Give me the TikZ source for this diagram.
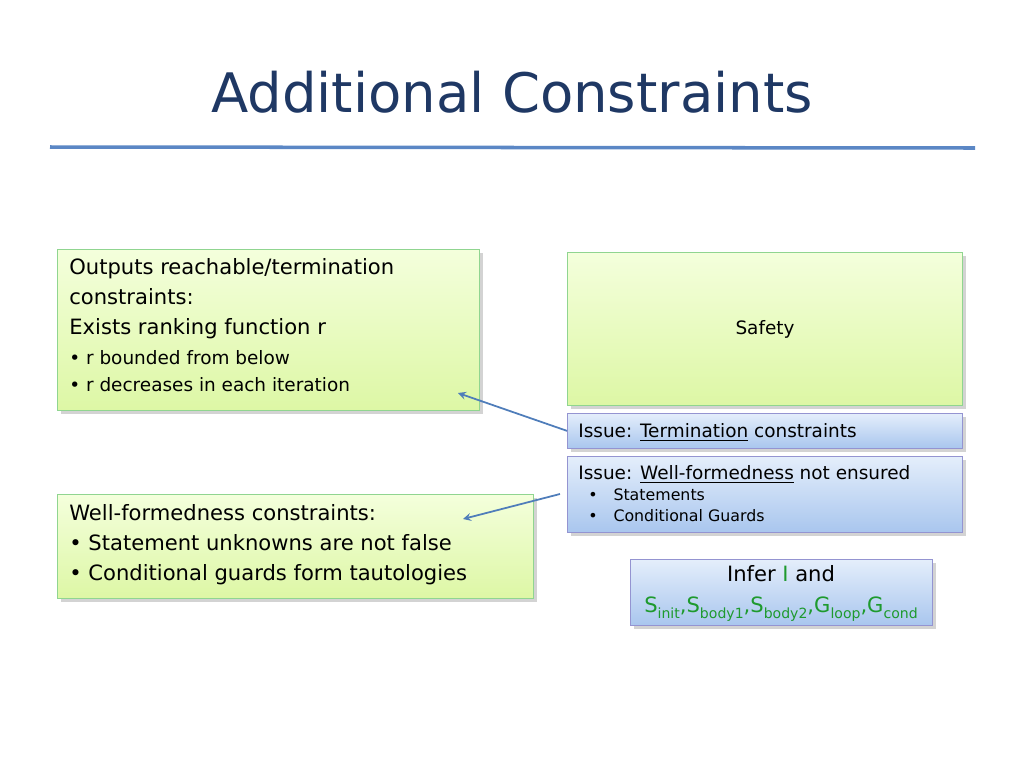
\documentclass[tikz,border=0pt]{standalone}
\usepackage{fontspec}
\setmainfont{DejaVu Sans}
\usetikzlibrary{positioning,shadows}
\definecolor{titleblue}{HTML}{1F3864}
\definecolor{ruleblue}{HTML}{5B87C5}
\definecolor{arrowblue}{HTML}{4F7DBA}
\definecolor{greentop}{HTML}{F4FFDC}
\definecolor{greenbot}{HTML}{DDF7A5}
\definecolor{bluetop}{HTML}{E4EEFB}
\definecolor{bluebot}{HTML}{A9C6EE}
\definecolor{vargreen}{HTML}{1E9A2E}
\begin{document}
\begin{tikzpicture}[
    x=0.02cm, y=-0.02cm,
    greenbox/.style={draw=green!45!gray!60, top color=greentop, bottom color=greenbot,
        drop shadow={opacity=0.35,shadow xshift=2pt,shadow yshift=-2pt},
        anchor=north west, align=left, inner sep=0pt},
    bluebox/.style={draw=blue!40!gray!60, top color=bluetop, bottom color=bluebot,
        drop shadow={opacity=0.35,shadow xshift=2pt,shadow yshift=-2pt},
        anchor=north west, inner sep=0pt},
    txt/.style={anchor=north west, align=left, inner sep=0pt, font=\fontsize{12}{17}\selectfont},
    small/.style={anchor=north west, align=left, inner sep=0pt, font=\fontsize{9.5}{12}\selectfont},
    link/.style={->, >=stealth, arrowblue, line width=1pt}
]
\useasboundingbox (0,0) rectangle (1024,768);

% Title
\node[titleblue, font=\fontsize{31}{36}\selectfont] (title) at (512,92) {Additional Constraints};
\draw[ruleblue, line width=2pt] (50,147) -- (975,148);

% Left boxes
\node[greenbox, minimum width=422*0.02cm, minimum height=161*0.02cm] (termbox) at (57,249) {};
\node[txt] (termtxt) at (69,258) {Outputs reachable/termination\\constraints:\\Exists ranking function r};
\node[small, font=\fontsize{10.5}{15.5}\selectfont] (termlist) at (69,350) {\textbullet\ r bounded from below\\\textbullet\ r decreases in each iteration};

\node[greenbox, minimum width=476*0.02cm, minimum height=104*0.02cm] (wfbox) at (57,494) {};
\node[txt] (wftxt) at (69,504) {Well-formedness constraints:\\\textbullet\ Statement unknowns are not false\\\textbullet\ Conditional guards form tautologies};

% Right boxes
\node[greenbox, minimum width=395*0.02cm, minimum height=153*0.02cm] (safety) at (567,252) {};
\node[font=\fontsize{10.5}{13}\selectfont] (safetytxt) at (765,329) {Safety};

\node[bluebox, minimum width=395*0.02cm, minimum height=35*0.02cm] (issue1) at (567,413) {};
\node[small, font=\fontsize{10.5}{13}\selectfont] (issue1txt) at (578,423) {Issue: \underline{Termination} constraints};

\node[bluebox, minimum width=395*0.02cm, minimum height=76*0.02cm] (issue2) at (567,456) {};
\node[small, font=\fontsize{10.5}{13}\selectfont] (issue2txt) at (578,465) {Issue: \underline{Well-formedness} not ensured};
\node[small, font=\fontsize{9}{12}\selectfont] (issue2list) at (588,488) {\textbullet\quad Statements\\\textbullet\quad Conditional Guards};

\node[bluebox, minimum width=302*0.02cm, minimum height=66*0.02cm] (infer) at (630,559) {};
\node[align=center, inner sep=0pt, font=\fontsize{12}{18}\selectfont] (infertxt) at (781,593)
  {Infer \textcolor{vargreen}{I} and\\
   \textcolor{vargreen}{S{\footnotesize\raisebox{-3pt}{init}},S{\footnotesize\raisebox{-3pt}{body1}},S{\footnotesize\raisebox{-3pt}{body2}},G{\footnotesize\raisebox{-3pt}{loop}},G{\footnotesize\raisebox{-3pt}{cond}}}};

% Arrows
\coordinate (termtip) at (458,393);
\coordinate (wftip) at (463,519);
\coordinate (wfstart) at (560,494);
\draw[link] (issue1.west) -- (termtip);
\draw[link] (wfstart) -- (wftip);
\end{tikzpicture}
\end{document}
